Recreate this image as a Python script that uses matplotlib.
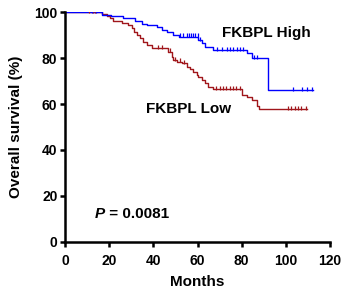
import matplotlib
matplotlib.use('Agg')
import matplotlib.pyplot as plt

plt.rcParams['font.family'] = ['Liberation Sans', 'DejaVu Sans']
plt.rcParams['font.weight'] = 'bold'

# FKBPL High: step times (months) and survival (%)
high_t = [0, 16.6, 21, 26, 31.7, 34.7, 37, 41.5, 43.8, 46, 49, 51.5,
          60.4, 61.9, 63.4, 67.2, 82.3, 84.5, 92, 112.2]
high_s = [100, 98.7, 98.3, 97.3, 96.2, 95, 94.3, 93.3, 92.2, 91.2, 90, 89.3,
          87.8, 86.4, 84.9, 83.5, 82.0, 80.0, 66.1, 66.1]
high_cens = [12, 14, 52, 53.5, 55, 56, 57, 58, 59, 60, 61,
             68.7, 71, 73.2, 74.7, 76.2, 77.7, 79.3, 80.8,
             85.5, 87, 103.3, 107.2, 109.4, 111.7]

# FKBPL Low
low_t = [0, 16.6, 18.9, 20.4, 21.9, 25.7, 28.7, 30.2, 31.3, 32.5, 34, 35.5,
         37, 39.3, 46.8, 48.3, 49, 50.6, 52.8, 55.1, 56.6, 58.1, 59.6, 60.4,
         61.9, 63.4, 64.9, 67.2, 80, 82.3, 84.6, 86.8, 87.6, 109.4]
low_s = [100, 99.1, 98.4, 97.3, 96.2, 95.4, 94.3, 92.9, 91.4, 90, 88.6, 87.1,
         85.7, 84.2, 82.7, 80.6, 79.1, 78.4, 77.7, 76.2, 75.2, 74, 72.8, 71.6,
         70.4, 69, 67.2, 66.5, 63.9, 62.9, 61.7, 59.1, 57.8, 57.8]
low_cens = [11, 12.5, 13.5, 42, 44, 47.5, 50, 52, 54,
            68.5, 70, 71.5, 73, 74.5, 76, 77.5, 79,
            101, 102.5, 104, 105.5, 107, 109]


def surv_at(ts, ss, x):
    val = ss[0]
    for t, s in zip(ts, ss):
        if t <= x:
            val = s
    return val


fig = plt.figure(figsize=(3.5, 2.95), dpi=100)
ax = fig.add_axes([0.186, 0.18, 0.757, 0.779])

blue = '#0000ff'
red = '#a0161b'

ax.step(low_t, low_s, where='post', color=red, lw=1.0)
ax.step(high_t, high_s, where='post', color=blue, lw=1.0)
ax.plot(low_cens, [surv_at(low_t, low_s, c) + 0.6 for c in low_cens], ls='none',
        marker='|', ms=3.5, mew=0.9, color=red)
ax.plot(high_cens, [surv_at(high_t, high_s, c) + 0.6 for c in high_cens], ls='none',
        marker='|', ms=3.5, mew=0.9, color=blue)

ax.text(91, 90.9, 'FKBPL High', fontsize=11, fontweight='bold', ha='center', va='center')
ax.text(55.7, 57.8, 'FKBPL Low', fontsize=11, fontweight='bold', ha='center', va='center')
p_txt = ax.text(13.6, 12.2, 'P', fontsize=11, fontweight='bold', style='italic',
                ha='left', va='center')
ax.annotate(' = 0.0081', xy=(1, 0), xycoords=p_txt, fontsize=11, fontweight='bold',
            ha='left', va='bottom')

ax.set_xlim(0, 120)
ax.set_ylim(0, 100)
ax.set_xticks(range(0, 121, 20))
ax.set_yticks(range(0, 101, 20))
ax.set_xlabel('Months', fontsize=11, fontweight='bold', labelpad=5)
ax.set_ylabel('Overall survival (%)', fontsize=11, fontweight='bold', labelpad=8)

for side in ['top', 'right']:
    ax.spines[side].set_visible(False)
for side in ['left', 'bottom']:
    ax.spines[side].set_linewidth(1.8)
ax.tick_params(width=1.8, length=3.5, labelsize=10, pad=2)
ax.tick_params(axis='x', pad=5)
for lab in ax.get_xticklabels() + ax.get_yticklabels():
    lab.set_fontweight('bold')

fig.savefig('out.png', dpi=100)
